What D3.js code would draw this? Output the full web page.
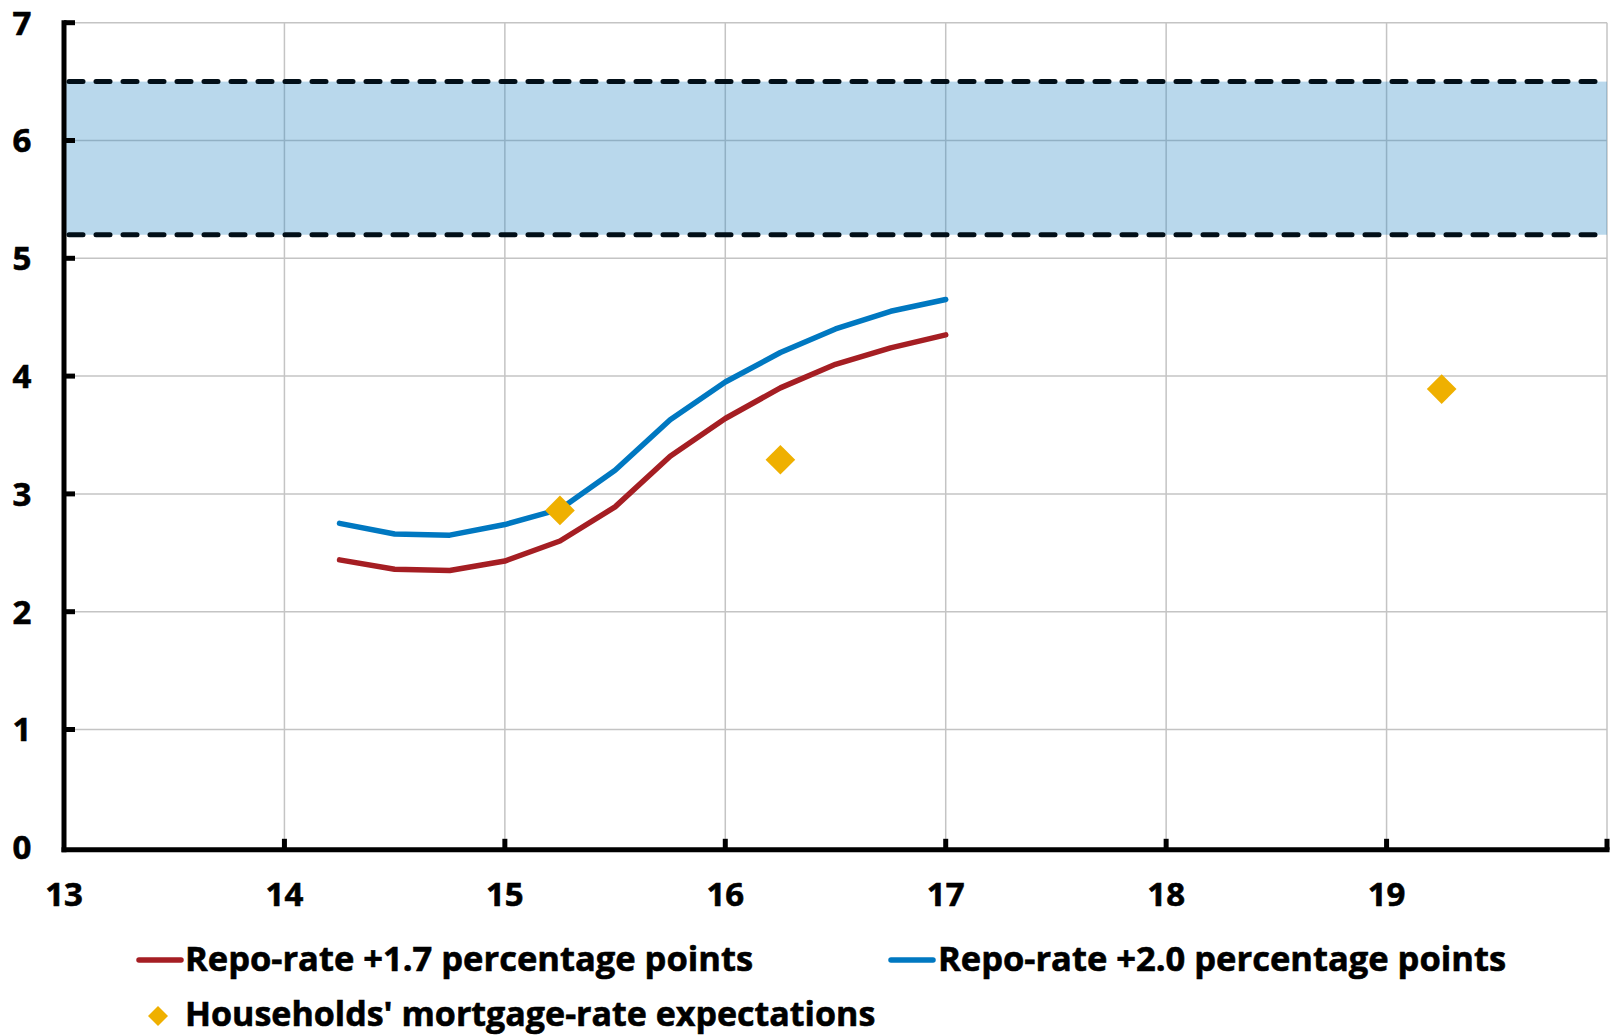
<!DOCTYPE html>
<html>
<head>
<meta charset="utf-8">
<script src="https://cdn.jsdelivr.net/npm/d3@7"></script>
<style>
  html, body { margin: 0; padding: 0; background: #fff; }
  svg { display: block; }
  text { font-family: "Open Sans", "Noto Sans", sans-serif; font-weight: 700; fill: #000; stroke: #000; stroke-width: 0.6px; }
</style>
</head>
<body>
<svg id="chart" width="1610" height="1035"></svg>
<script>
// Quarterly path of the two repo-rate based mortgage-rate paths (year.fraction)
const quarters = [14.25, 14.5, 14.75, 15, 15.25, 15.5, 15.75, 16, 16.25, 16.5, 16.75, 17];
const repoPlus17 = [2.44, 2.36, 2.35, 2.43, 2.60, 2.89, 3.32, 3.64, 3.90, 4.10, 4.24, 4.35];
const repoPlus20 = [2.75, 2.66, 2.65, 2.74, 2.87, 3.20, 3.63, 3.95, 4.20, 4.40, 4.55, 4.65];

// Households' expected mortgage rate
const expectX = [15.25, 16.25, 19.25];
const expectY = [2.86, 3.29, 3.89];

// Historical range band
const bandLow = 5.2;
const bandHigh = 6.5;

const xTicks = [13, 14, 15, 16, 17, 18, 19, 20];
const xTickLabels = ["13", "14", "15", "16", "17", "18", "19", ""];
const yTicks = [0, 1, 2, 3, 4, 5, 6, 7];

const seriesNames = [
  "Repo-rate +1.7 percentage points",
  "Repo-rate +2.0 percentage points",
  "Households' mortgage-rate expectations"
];

const RED = "#a51e23", BLUE = "#0078c1", GOLD = "#efb000";

const svg = d3.select("#chart");
const mLeft = 64, mRight = 1607, mTop = 22.7, mBottom = 847.3;

const x = d3.scaleLinear().domain([13, 20]).range([mLeft, mRight]);
const y = d3.scaleLinear().domain([0, 7]).range([mBottom, mTop]);

// Gridlines
const grid = svg.append("g");
grid.selectAll("line.gx").data(xTicks.slice(1)).join("line")
  .attr("x1", d => x(d)).attr("x2", d => x(d))
  .attr("y1", mTop).attr("y2", mBottom)
  .attr("stroke", "#c4c4c4").attr("stroke-width", 1.5);
grid.selectAll("line.gy").data(yTicks.slice(1)).join("line")
  .attr("x1", mLeft).attr("x2", mRight)
  .attr("y1", d => y(d)).attr("y2", d => y(d))
  .attr("stroke", "#c4c4c4").attr("stroke-width", 1.5);

// Band
svg.append("rect")
  .attr("x", mLeft).attr("width", mRight - mLeft)
  .attr("y", y(bandHigh)).attr("height", y(bandLow) - y(bandHigh))
  .attr("fill", "rgb(42,136,197)").attr("fill-opacity", 0.33);

svg.selectAll("line.band").data([bandHigh, bandLow]).join("line")
  .attr("x1", mLeft + 5).attr("x2", mRight)
  .attr("y1", d => y(d)).attr("y2", d => y(d))
  .attr("stroke", "#020f18").attr("stroke-width", 5)
  .attr("stroke-linecap", "round")
  .attr("stroke-dasharray", "14 13");

// Lines
const line = d3.line().x((d, i) => x(quarters[i])).y(d => y(d));
svg.append("path").datum(repoPlus17).attr("d", line)
  .attr("fill", "none").attr("stroke", RED).attr("stroke-width", 5.5)
  .attr("stroke-linecap", "round").attr("stroke-linejoin", "round");
svg.append("path").datum(repoPlus20).attr("d", line)
  .attr("fill", "none").attr("stroke", BLUE).attr("stroke-width", 5.5)
  .attr("stroke-linecap", "round").attr("stroke-linejoin", "round");

// Diamonds
const diamond = d3.symbol().type(d3.symbolSquare).size(440);
svg.selectAll("path.dia").data(expectX).join("path")
  .attr("d", diamond)
  .attr("transform", (d, i) => `translate(${x(d)},${y(expectY[i])}) rotate(45)`)
  .attr("fill", GOLD);

// Axes
const axisY = y(0) + 2.5;
svg.append("line").attr("x1", mLeft).attr("x2", mLeft)
  .attr("y1", mTop - 2.5).attr("y2", axisY + 2.5)
  .attr("stroke", "#000").attr("stroke-width", 5);
svg.append("line").attr("x1", mLeft - 2.5).attr("x2", mRight + 2.5)
  .attr("y1", axisY).attr("y2", axisY)
  .attr("stroke", "#000").attr("stroke-width", 5);

svg.selectAll("line.ty").data(yTicks.slice(1)).join("line")
  .attr("x1", mLeft).attr("x2", mLeft + 11)
  .attr("y1", d => y(d)).attr("y2", d => y(d))
  .attr("stroke", "#000").attr("stroke-width", 5);
svg.selectAll("line.tx").data(xTicks.slice(1)).join("line")
  .attr("x1", d => x(d)).attr("x2", d => x(d))
  .attr("y1", axisY).attr("y2", axisY - 11)
  .attr("stroke", "#000").attr("stroke-width", 5);

// Tick labels
svg.selectAll("text.yl").data(yTicks).join("text")
  .attr("x", 22).attr("y", d => y(d))
  .attr("dy", "0.36em").attr("text-anchor", "middle")
  .attr("font-size", 33).text(d => d);
svg.selectAll("text.xl").data(xTicks).join("text")
  .attr("x", d => x(d)).attr("y", 906)
  .attr("text-anchor", "middle")
  .attr("font-size", 33).text((d, i) => xTickLabels[i]);

// Legend
const lg = svg.append("g");
lg.append("line").attr("x1", 139).attr("x2", 181).attr("y1", 960).attr("y2", 960)
  .attr("stroke", RED).attr("stroke-width", 5.5).attr("stroke-linecap", "round");
lg.append("text").attr("x", 185).attr("y", 971).attr("font-size", 34.5).text(seriesNames[0]);
lg.append("line").attr("x1", 891).attr("x2", 933).attr("y1", 960).attr("y2", 960)
  .attr("stroke", BLUE).attr("stroke-width", 5.5).attr("stroke-linecap", "round");
lg.append("text").attr("x", 938).attr("y", 971).attr("font-size", 34.5).text(seriesNames[1]);
lg.append("path").attr("d", d3.symbol().type(d3.symbolSquare).size(200))
  .attr("transform", "translate(158,1016) rotate(45)").attr("fill", GOLD);
lg.append("text").attr("x", 185).attr("y", 1026).attr("font-size", 34).text(seriesNames[2]);
</script>
</body>
</html>
